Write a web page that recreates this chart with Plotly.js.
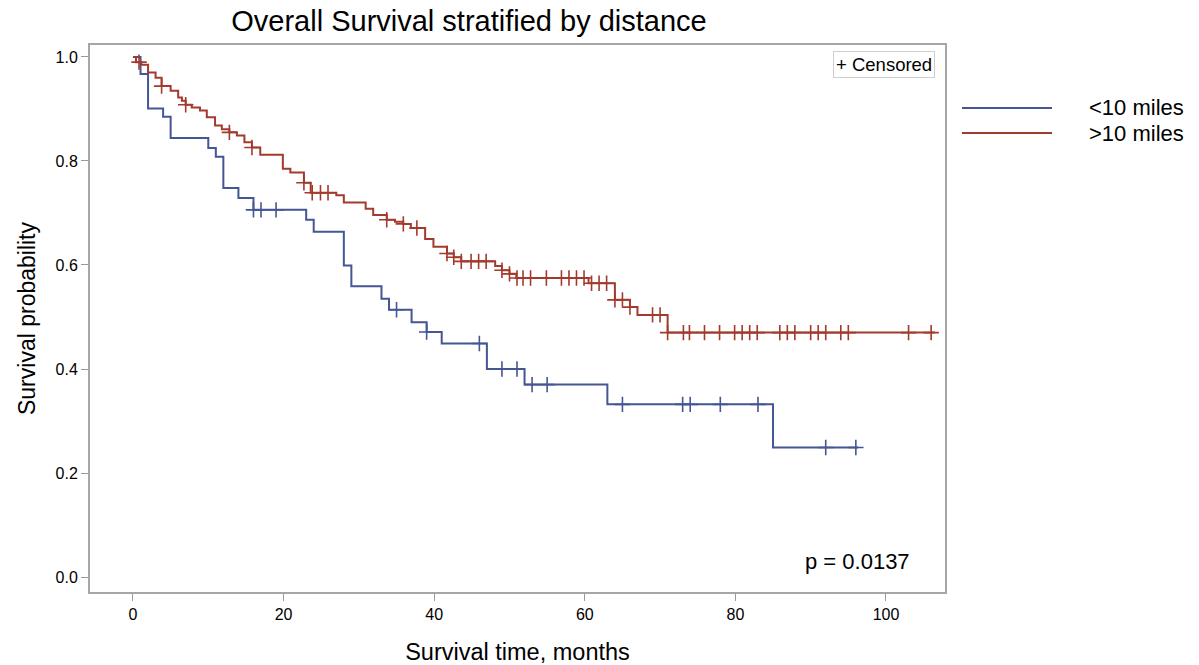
<!DOCTYPE html>
<html>
<head>
<meta charset="utf-8">
<script src="https://cdn.plot.ly/plotly-3.0.1.min.js"></script>
<style>html,body{margin:0;padding:0;background:#fff}#chart{width:1199px;height:665px}</style>
</head>
<body>
<div id="chart"></div>
<script>
// ---- data ----
const seriesNames = ["<10 miles", ">10 miles"];

// <10 miles: event times (months) and survival after each step
const nearTimes = [0, 1, 2, 4, 5, 10, 11, 12, 14, 16, 23, 24, 28, 29, 33, 34, 37, 39, 41, 47, 52, 63, 85];
const nearSurv  = [1.0, 0.967, 0.901, 0.885, 0.844, 0.825, 0.808, 0.748, 0.729, 0.706, 0.687, 0.664, 0.599, 0.559, 0.535, 0.514, 0.490, 0.471, 0.449, 0.400, 0.370, 0.332, 0.249];
const nearEnd = 96.3;
const nearCensor = [16, 17, 19, 35, 39, 46, 49, 51, 53, 55, 65, 73, 74, 78, 83, 92, 96];

// >10 miles
const farTimes = [0, 0.4, 1.1, 2.0, 3.0, 3.8, 5.0, 6.0, 6.5, 7.0, 7.8, 8.9, 9.8, 10.9, 11.8, 12.8, 13.8, 14.8, 15.8, 16.9, 19.9, 20.9, 22.7, 23.6, 27.0, 28.0, 30.9, 31.9, 33.7, 34.8, 35.9, 36.9, 38.8, 39.9, 41.7, 42.6, 43.6, 48.1, 49.0, 50.0, 50.9, 60.5, 64.0, 66.0, 67.0, 71.0];
const farSurv  = [1.0, 0.990, 0.985, 0.970, 0.960, 0.944, 0.935, 0.922, 0.916, 0.908, 0.903, 0.897, 0.884, 0.868, 0.861, 0.855, 0.849, 0.836, 0.826, 0.812, 0.785, 0.778, 0.758, 0.739, 0.734, 0.720, 0.708, 0.696, 0.687, 0.683, 0.679, 0.671, 0.650, 0.635, 0.622, 0.615, 0.607, 0.598, 0.590, 0.583, 0.575, 0.565, 0.533, 0.519, 0.504, 0.470];
const farEnd = 106.5;
const farCensor = [0.8, 3.8, 7.0, 12.8, 15.8, 22.7, 23.8, 24.9, 25.9, 33.7, 35.9, 37.7, 41.7, 42.6, 43.6, 44.9, 45.9, 46.9, 49.0, 50.0, 51.0, 51.8, 52.8, 54.9, 56.9, 57.9, 58.9, 59.9, 60.9, 61.9, 62.9, 64.0, 65.0, 66.0, 69.0, 70.0, 71.0, 73.1, 73.9, 75.9, 77.9, 79.9, 80.9, 81.9, 82.9, 85.9, 86.9, 87.9, 90.0, 91.0, 92.0, 94.0, 95.0, 103.0, 106.0];

const xTicks = [0, 20, 40, 60, 80, 100];
const yTicks = [0.0, 0.2, 0.4, 0.6, 0.8, 1.0];
const yTickText = ["0.0", "0.2", "0.4", "0.6", "0.8", "1.0"];
const pText = "p = 0.0137";

// ---- helpers ----
function survAt(times, surv, t) {
  let v = surv[0];
  for (let i = 0; i < times.length; i++) { if (times[i] <= t) v = surv[i]; }
  return v;
}
const colors = ["#445694", "#A23A2E"];
const arial = "Liberation Sans, Arial, sans-serif";

function stepTrace(times, surv, end, color) {
  return {
    x: times.concat([end]), y: surv.concat([surv[surv.length - 1]]),
    type: "scatter", mode: "lines", line: {shape: "hv", color: color, width: 2},
    showlegend: false, hoverinfo: "skip"
  };
}
function censorTrace(times, surv, cens, color) {
  return {
    x: cens, y: cens.map(t => survAt(times, surv, t)),
    type: "scatter", mode: "markers",
    marker: {symbol: "cross-thin-open", size: 11, color: color, line: {color: color, width: 1.6}},
    showlegend: false, hoverinfo: "skip"
  };
}

const data = [
  stepTrace(nearTimes, nearSurv, nearEnd, colors[0]),
  stepTrace(farTimes, farSurv, farEnd, colors[1]),
  censorTrace(nearTimes, nearSurv, nearCensor, colors[0]),
  censorTrace(farTimes, farSurv, farCensor, colors[1])
];

const W = 1199, H = 665;
const L = 90, R = 945, T = 45, B = 592;
const px = x => (x - L) / (R - L);
const py = y => (B - y) / (B - T);

const layout = {
  width: W, height: H,
  margin: {l: L, r: W - R, t: T, b: H - B, pad: 0},
  paper_bgcolor: "#fff", plot_bgcolor: "#fff",
  title: {text: "Overall Survival stratified by distance", x: 469 / W, xref: "container", xanchor: "center",
          y: 1 - 21 / H, yref: "container", yanchor: "middle",
          font: {family: arial, size: 29, color: "#000"}},
  xaxis: {
    range: [-5.71, 107.84], tickvals: xTicks, ticktext: xTicks.map(String),
    ticks: "outside", ticklen: 7, tickcolor: "#9a9a9a", tickwidth: 1,
    showgrid: false, zeroline: false, showline: true, linecolor: "#a6a6a6", linewidth: 2, mirror: true,
    tickfont: {family: arial, size: 16, color: "#000"},
    title: {text: "Survival time, months", font: {family: arial, size: 23.5, color: "#000"}, standoff: 21}
  },
  yaxis: {
    range: [-0.0288, 1.023], tickvals: yTicks, ticktext: yTickText,
    ticks: "outside", ticklen: 7, tickcolor: "#9a9a9a", tickwidth: 1,
    showgrid: false, zeroline: false, showline: true, linecolor: "#a6a6a6", linewidth: 2, mirror: true,
    tickfont: {family: arial, size: 16, color: "#000"},
    title: {text: "Survival probability", font: {family: arial, size: 23, color: "#000"}, standoff: 13}
  },
  shapes: [
    {type: "line", xref: "paper", yref: "paper", x0: px(962), x1: px(1052), y0: py(108), y1: py(108),
     line: {color: colors[0], width: 2}},
    {type: "line", xref: "paper", yref: "paper", x0: px(962), x1: px(1052), y0: py(133), y1: py(133),
     line: {color: colors[1], width: 2}}
  ],
  annotations: [
    {xref: "paper", yref: "paper", x: px(1087), y: py(107), xanchor: "left", yanchor: "middle", showarrow: false,
     text: seriesNames[0], font: {family: arial, size: 22, color: "#000"}},
    {xref: "paper", yref: "paper", x: px(1087), y: py(133), xanchor: "left", yanchor: "middle", showarrow: false,
     text: seriesNames[1], font: {family: arial, size: 22, color: "#000"}},
    {xref: "paper", yref: "paper", x: px(935), y: py(64.5), xanchor: "right", yanchor: "middle", showarrow: false,
     text: "+ Censored", font: {family: arial, size: 18.5, color: "#000"},
     bordercolor: "#cfcfcf", borderwidth: 1, borderpad: 2, bgcolor: "#fff"},
    {xref: "paper", yref: "paper", x: px(912), y: py(561), xanchor: "right", yanchor: "middle", showarrow: false,
     text: pText, font: {family: arial, size: 22, color: "#000"}}
  ]
};

Plotly.newPlot("chart", data, layout, {staticPlot: true, displayModeBar: false});
</script>
</body>
</html>
